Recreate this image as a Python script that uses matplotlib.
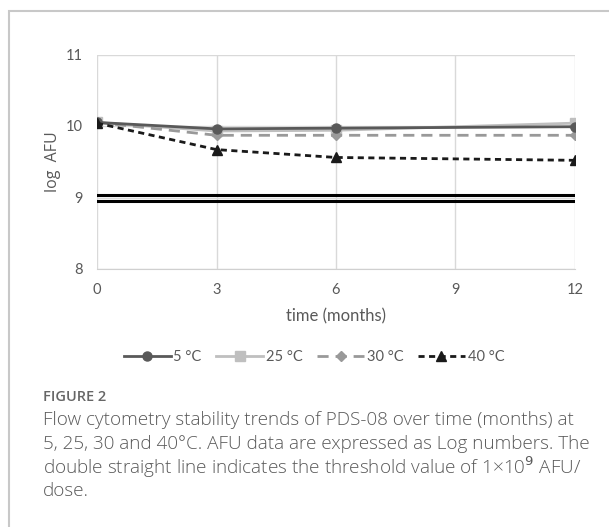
import matplotlib
matplotlib.use("Agg")
import matplotlib.pyplot as plt
from matplotlib.patches import Rectangle

months = [0, 3, 6, 12]
series_labels = ["5 °C", "25 °C", "30 °C", "40 °C"]
t5 = [10.05, 9.96, 9.97, 9.99]
t25 = [10.05, 9.93, 9.94, 10.04]
t30 = [10.05, 9.87, 9.87, 9.87]
t40 = [10.04, 9.67, 9.56, 9.52]
threshold_lines = [9.03, 8.955]
xticks = [0, 3, 6, 9, 12]
yticks = [8, 9, 10, 11]

caption_title = "FIGURE 2"
caption_lines = [
    "Flow cytometry stability trends of PDS-08 over time (months) at",
    "5, 25, 30 and 40°C. AFU data are expressed as Log numbers. The",
    "double straight line indicates the threshold value of 1×10$^{9}$ AFU/",
    "dose.",
]

W, H = 609, 527
fig = plt.figure(figsize=(W / 100, H / 100), dpi=100)
fig.patch.set_facecolor("white")

# outer frame
fig.patches.append(Rectangle((8.5 / W, -0.1), 1.2, 1 - 11 / H + 0.1, transform=fig.transFigure,
                             fill=False, edgecolor="#c8c8c8", linewidth=1.5))

left, right = 97 / W, 575 / W
bottom, top = 1 - 269 / H, 1 - 54.5 / H
ax = fig.add_axes([left, bottom, right - left, top - bottom])

font = ["Lato", "DejaVu Sans"]
tc = "#595959"

ax.set_xlim(0, 12)
ax.set_ylim(8, 11)
ax.set_xticks(xticks)
ax.set_yticks(yticks)
ax.grid(True, color="#d9d9d9", linewidth=1)
ax.set_axisbelow(True)
for s in ax.spines.values():
    s.set_visible(False)
ax.spines["bottom"].set_visible(True)
ax.spines["bottom"].set_color("#d0d0d0")
ax.tick_params(length=0, pad=10, labelsize=10.5, labelcolor=tc)
for lab in ax.get_xticklabels() + ax.get_yticklabels():
    lab.set_fontfamily(font)

for yv in threshold_lines:
    ax.plot([0, 12], [yv, yv], color="black", linewidth=2.2, zorder=2)

ax.plot(months, t5, color="#595959", linewidth=2, marker="o", markersize=6.5,
        label=series_labels[0], zorder=4)
ax.plot(months, t25, color="#bfbfbf", linewidth=2, marker="s", markersize=6.5,
        label=series_labels[1], zorder=3)
ax.plot(months, t30, color="#999999", linewidth=2, marker="D", markersize=5.5,
        dashes=(4, 2.5), label=series_labels[2], zorder=3)
ax.plot(months, t40, color="#1a1a1a", linewidth=2, marker="^", markersize=6.5,
        dashes=(2.2, 1.6), label=series_labels[3], zorder=5)

ax.set_xlabel("time (months)", fontsize=12, color=tc, family=font, labelpad=8)
ax.set_ylabel("log  AFU", fontsize=11.5, color=tc, family=["Open Sans", "DejaVu Sans"], labelpad=4)

leg = fig.legend(loc="center", bbox_to_anchor=(314 / W, 1 - 357 / H), ncol=4, frameon=False,
                 prop={"family": font, "size": 10.5}, labelcolor=tc, handlelength=3.2,
                 columnspacing=1.0, handletextpad=0.2)

fig.text(43 / W, 1 - 397 / H, caption_title, fontsize=10.5, color="#666666",
         family=["Open Sans", "DejaVu Sans"], weight="semibold", va="center")
ys = [420, 444, 467, 491]
for y, line in zip(ys, caption_lines):
    fig.text(43 / W, 1 - y / H, line, fontsize=13.6, color="#595959",
             family=["Open Sans", "DejaVu Sans"], weight="light", va="center")

fig.savefig("out.png", dpi=100)
